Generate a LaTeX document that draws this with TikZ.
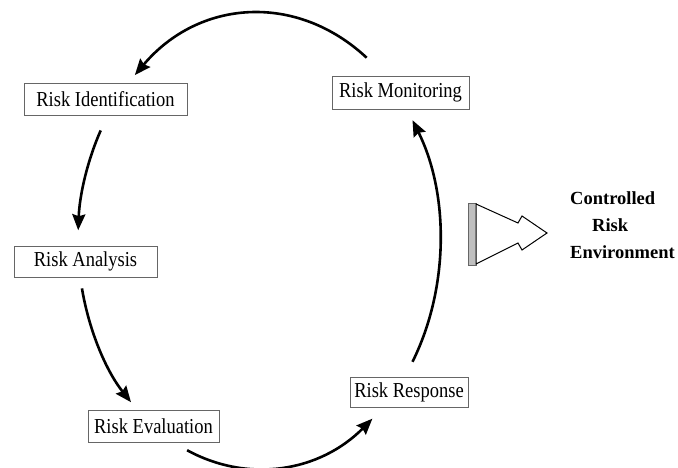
\documentclass[tikz,border=0pt]{standalone}
\usepackage{fontspec}
\setmainfont{Liberation Serif}
\usetikzlibrary{arrows.meta}
\newcommand{\talltext}[1]{\scalebox{1}[1.15]{#1}}
\begin{document}
\begin{tikzpicture}[x=1pt,y=-1pt,
  stagebox/.style={draw=black!60,line width=0.8pt,inner sep=0pt,
    font=\fontsize{18.5}{22}\selectfont},
  flow/.style={line width=2.6pt,-{Stealth[length=16pt,width=13pt,inset=2pt]}},
  outcome/.style={font=\bfseries\fontsize{18.5}{27}\selectfont,align=left,inner sep=0pt},
  bigarrow/.style={draw=black,line width=1pt,fill=white,line join=miter},
  bar/.style={draw=black!60,line width=0.6pt,fill=black!25}]
\useasboundingbox (0,0) rectangle (678,468);
% stage boxes
\node[stagebox,minimum width=163pt,minimum height=32pt] (ident) at (105.5,99) {\talltext{Risk Identification}};
\node[stagebox,minimum width=137pt,minimum height=33pt] (monit) at (400.5,92.5) {\talltext{Risk Monitoring}};
\node[stagebox,minimum width=143pt,minimum height=31pt] (anal) at (85.5,261.5) {\talltext{Risk Analysis}};
\node[stagebox,minimum width=131pt,minimum height=32pt] (evalu) at (153.5,426) {\talltext{Risk Evaluation}};
\node[stagebox,minimum width=118pt,minimum height=30pt] (resp) at (409,392) {\talltext{Risk Response}};
% cycle on an ellipse, centre (259,241), radii 181 and 228
\coordinate (c) at (259,241);
\path (c) ++(-53.5:181 and 228) coordinate (mStart);
\path (c) ++(-151:181 and 228) coordinate (iStart);
\path (c) ++(-192:181 and 228) coordinate (aStart);
\path (c) ++(-246.6:181 and 228) coordinate (eStart);
\path (c) ++(32:181 and 228) coordinate (rStart);
\draw[flow] (mStart) arc[start angle=-53.5,end angle=-133.3,x radius=181,y radius=228];
\draw[flow] (iStart) arc[start angle=-151,end angle=-177.3,x radius=181,y radius=228];
\draw[flow] (aStart) arc[start angle=-192,end angle=-225,x radius=181,y radius=228];
\draw[flow] (eStart) arc[start angle=-246.6,end angle=-308.8,x radius=181,y radius=228];
\draw[flow] (rStart) arc[start angle=32,end angle=-32,x radius=181,y radius=228];
% outcome arrow
\draw[bar] (468,203) rectangle (476,265);
\draw[bigarrow] (476,204) -- (518,223) -- (522,216) -- (547,233) -- (522,250) -- (518,243) -- (476,264) -- cycle;
\node[outcome,anchor=north west] (env) at (570,191) {Controlled\\\hspace*{22pt}Risk\\Environment};
\end{tikzpicture}
\end{document}
